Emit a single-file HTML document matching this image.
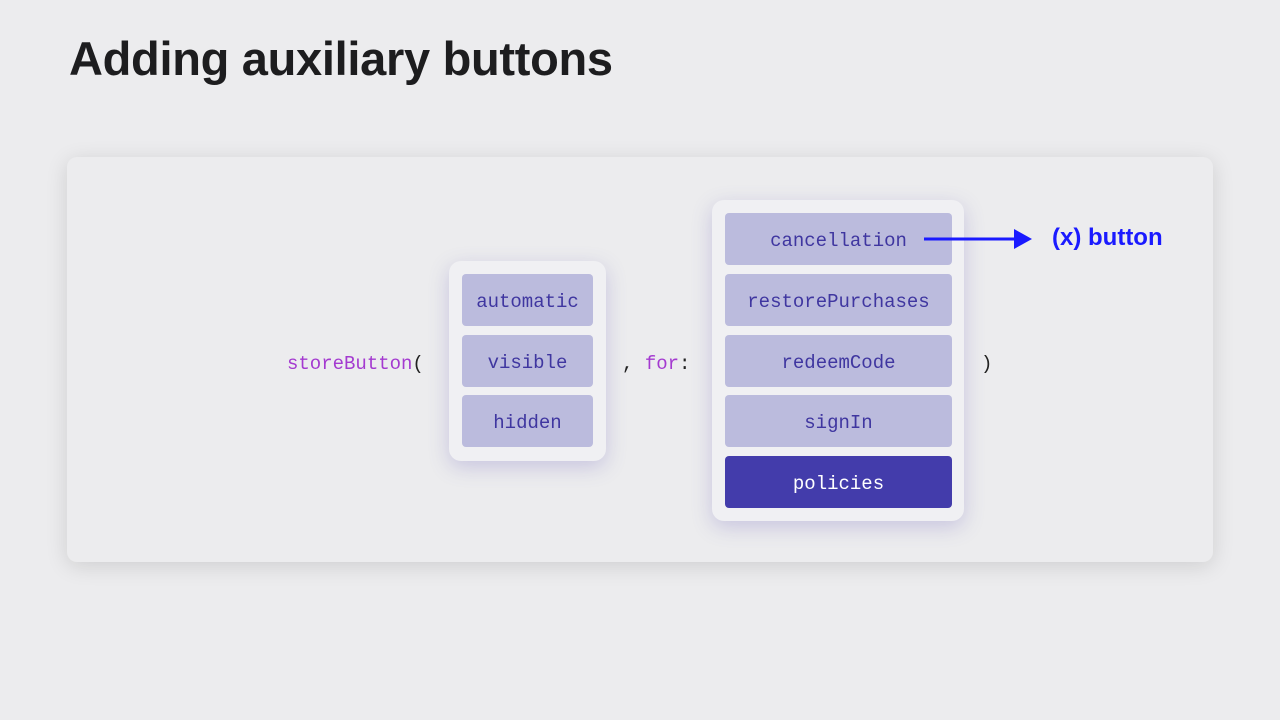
<!DOCTYPE html>
<html><head><meta charset="utf-8"><style>
body{margin:0;width:1280px;height:720px;background:#ececee;position:relative;overflow:hidden;font-family:"Liberation Sans",sans-serif}
.t{position:absolute;left:69px;top:31px;font-size:47px;font-weight:bold;color:#1d1d1f;letter-spacing:-0.3px}
.card{position:absolute;left:67px;top:157px;width:1146px;height:405px;background:#ececee;border-radius:10px;box-shadow:0 4px 22px rgba(0,0,0,0.13)}
.p{position:absolute;background:#f0f0f3;border-radius:12px;box-shadow:0 6px 20px rgba(90,80,180,0.25)}
.i{position:absolute;background:#bbbbdd;border-radius:4px;color:#3f36a0;font-family:"Liberation Mono",monospace;font-size:19px;display:flex;align-items:center;justify-content:center;box-sizing:border-box;padding-top:4px}
.m{position:absolute;font-family:"Liberation Mono",monospace;font-size:19px;color:#222;top:353px}
.k{color:#a43ad0}
</style></head><body>
<div class="t">Adding auxiliary buttons</div>
<div class="card"></div>
<div class="m" style="left:287px"><span class="k">storeButton</span>(</div>
<div class="m" style="left:622px">, <span class="k">for</span>:</div>
<div class="m" style="left:981px">)</div>
<div class="p" style="left:449px;top:261px;width:157px;height:200px"></div>
<div class="i" style="left:462px;top:274px;width:131px;height:52px">automatic</div>
<div class="i" style="left:462px;top:335px;width:131px;height:52px">visible</div>
<div class="i" style="left:462px;top:395px;width:131px;height:52px">hidden</div>
<div class="p" style="left:712px;top:200px;width:252px;height:321px"></div>
<div class="i" style="left:725px;top:213px;width:227px;height:52px">cancellation</div>
<div class="i" style="left:725px;top:274px;width:227px;height:52px">restorePurchases</div>
<div class="i" style="left:725px;top:335px;width:227px;height:52px">redeemCode</div>
<div class="i" style="left:725px;top:395px;width:227px;height:52px">signIn</div>
<div class="i" style="left:725px;top:456px;width:227px;height:52px;background:#433cab;color:#fff">policies</div>
<svg style="position:absolute;left:0;top:0" width="1280" height="720"><line x1="924" y1="239" x2="1016" y2="239" stroke="#1a1aff" stroke-width="3"/><polygon points="1014,229 1032,239 1014,249" fill="#1a1aff"/></svg>
<div style="position:absolute;left:1052px;top:224px;font-size:24px;font-weight:bold;color:#1a1aff">(x) button</div>
</body></html>
